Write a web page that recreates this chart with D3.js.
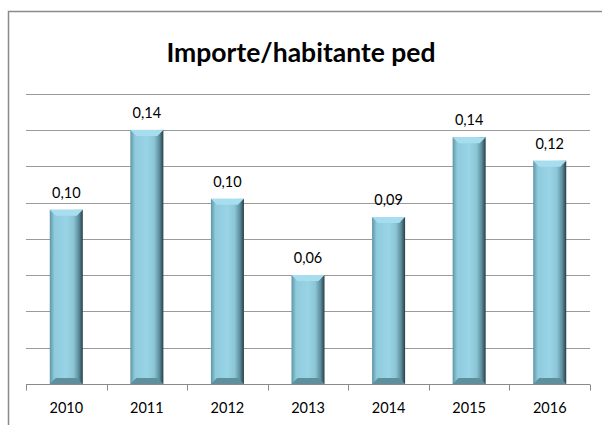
<!DOCTYPE html>
<html><head><meta charset="utf-8">
<script src="https://cdn.jsdelivr.net/npm/d3@7"></script>
<style>body{margin:0;background:#fff}svg{display:block}</style>
</head><body>
<script>
const title = "Importe/habitante ped";
const years = ["2010","2011","2012","2013","2014","2015","2016"];
const values = [0.096, 0.14, 0.102, 0.06, 0.092, 0.136, 0.123];
const gridTicks = [0,0.02,0.04,0.06,0.08,0.10,0.12,0.14,0.16];

const W = 602, H = 425;
const svg = d3.select("body").append("svg").attr("width", W).attr("height", H);
const defs = svg.append("defs");
const g1 = defs.append("linearGradient").attr("id","barGrad").attr("x1","0").attr("x2","1").attr("y1","0").attr("y2","0");
[[0,"#5f96a6"],[0.14,"#8fcbdc"],[0.5,"#98d4e5"],[0.72,"#8cc6d6"],[0.88,"#5c8d9b"],[1,"#273f47"]].forEach(([o,c])=>g1.append("stop").attr("offset",o).attr("stop-color",c));

// frame
svg.append("path").attr("d","M8.5,425 L8.5,11.5 L602,11.5").attr("fill","none").attr("stroke","#8a8a8a").attr("stroke-width",1.5);

svg.append("text").attr("x",301).attr("y",62).attr("text-anchor","middle")
  .attr("font-family","Lato, 'Open Sans', sans-serif").attr("font-weight","bold").attr("font-size",26.5)
  .attr("fill","#000").text(title);

const x = d3.scaleBand().domain(years).range([26,590]).paddingInner(0.59).paddingOuter(0.295);
const y = d3.scaleLinear().domain([0,0.16]).range([384,93.6]);

svg.append("g").selectAll("line").data(gridTicks.slice(1)).join("line")
  .attr("x1",26).attr("x2",590).attr("y1",d=>Math.round(y(d))+0.5).attr("y2",d=>Math.round(y(d))+0.5)
  .attr("stroke","#9a9a9a").attr("stroke-width",1);

const bars = svg.append("g").selectAll("g").data(years).join("g");
bars.append("rect").attr("x",d=>x(d)).attr("width",x.bandwidth())
  .attr("y",(d,i)=>y(values[i])).attr("height",(d,i)=>y(0)-y(values[i]))
  .attr("fill","url(#barGrad)");
const bv = 6;
bars.append("path").attr("d",(d,i)=>{const x0=x(d),x1=x0+x.bandwidth(),t=y(values[i]);
  return `M${x0},${t}L${x1},${t}L${x1-bv},${t+bv}L${x0+bv},${t+bv}Z`;}).attr("fill","#a6def0");
bars.append("path").attr("d",(d,i)=>{const x0=x(d),x1=x0+x.bandwidth(),b=y(0);
  return `M${x0},${b}L${x1},${b}L${x1-bv},${b-bv}L${x0+bv},${b-bv}Z`;}).attr("fill","#5e8f9d");

svg.append("g").selectAll("text").data(years).join("text")
  .attr("x",d=>x(d)+x.bandwidth()/2).attr("y",(d,i)=>y(values[i])-12)
  .attr("text-anchor","middle").attr("font-family","Lato, 'Open Sans', sans-serif").attr("font-size",14.5).attr("fill","#000")
  .text((d,i)=>values[i].toFixed(2).replace(".",","));

const axis = svg.append("g").attr("transform","translate(0,384.5)")
  .call(d3.axisBottom(x).tickSize(0).tickPadding(18).tickFormat(d=>d));
axis.select(".domain").attr("stroke","#8a8a8a").attr("d","M26,0H590");
axis.selectAll("text").attr("font-family","Lato, 'Open Sans', sans-serif").attr("font-size",14.5).attr("fill","#000");
const bounds = years.map(d=>x(d)-x.step()*x.paddingInner()/2).concat([590]);
bounds[0]=26;
axis.append("g").selectAll("line").data(bounds).join("line")
  .attr("x1",d=>Math.round(d)+0.5).attr("x2",d=>Math.round(d)+0.5).attr("y1",0).attr("y2",6).attr("stroke","#8a8a8a");
</script>
</body></html>
